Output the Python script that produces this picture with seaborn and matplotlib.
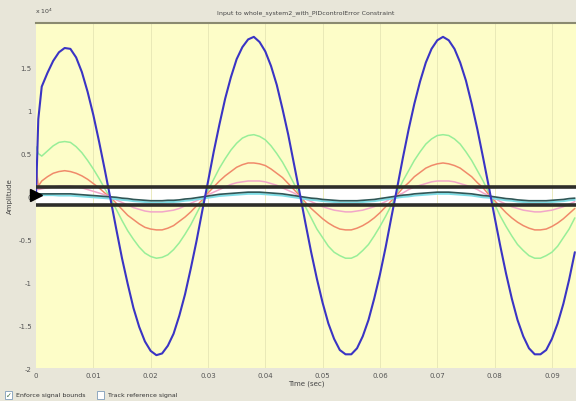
#%%
# import module/libary
import matplotlib
matplotlib.use("Agg")
import matplotlib.pyplot as plt
import matplotlib.patches as mpatches
import seaborn as sns
import pandas as pd
import numpy as np

#%%
# data (amplitude in units of 1e4, time in ms)
time_ms = [0, 0.4] + list(range(1, 95))

blue = [0.0, 0.9, 1.28, 1.44, 1.58, 1.68, 1.73, 1.72, 1.62, 1.45, 1.22, 0.95,
        0.64, 0.31, -0.03, -0.38, -0.72, -1.02, -1.30, -1.52, -1.69, -1.80,
        -1.85, -1.83, -1.74, -1.60, -1.39, -1.14, -0.84, -0.52, -0.17, 0.17,
        0.52, 0.84, 1.14, 1.39, 1.60, 1.74, 1.83, 1.86, 1.80, 1.69, 1.52, 1.30,
        1.02, 0.72, 0.38, 0.04, -0.31, -0.65, -0.96, -1.24, -1.48, -1.66, -1.79,
        -1.84, -1.84, -1.77, -1.63, -1.44, -1.19, -0.91, -0.59, -0.24, 0.10,
        0.45, 0.78, 1.08, 1.34, 1.56, 1.72, 1.82, 1.86, 1.82, 1.72, 1.56, 1.35,
        1.08, 0.78, 0.45, 0.11, -0.24, -0.58, -0.90, -1.19, -1.44, -1.63, -1.77,
        -1.84, -1.84, -1.79, -1.66, -1.48, -1.25, -0.97, -0.65]

green = [0.58, 0.50, 0.47, 0.53, 0.59, 0.63, 0.64, 0.63, 0.58, 0.51, 0.42,
         0.32, 0.21, 0.09, -0.02, -0.15, -0.28, -0.40, -0.50, -0.59, -0.66,
         -0.70, -0.72, -0.71, -0.68, -0.62, -0.54, -0.44, -0.33, -0.20, -0.07,
         0.07, 0.20, 0.33, 0.44, 0.54, 0.62, 0.68, 0.71, 0.72, 0.70, 0.66, 0.59,
         0.50, 0.40, 0.28, 0.15, 0.01, -0.12, -0.25, -0.38, -0.48, -0.58, -0.65,
         -0.69, -0.72, -0.72, -0.69, -0.63, -0.56, -0.46, -0.35, -0.23, -0.10,
         0.04, 0.18, 0.30, 0.42, 0.52, 0.61, 0.67, 0.71, 0.72, 0.71, 0.67, 0.61,
         0.52, 0.42, 0.30, 0.18, 0.04, -0.09, -0.23, -0.35, -0.46, -0.56, -0.63,
         -0.69, -0.72, -0.72, -0.69, -0.65, -0.58, -0.48, -0.38, -0.25]

orange = [0.36, 0.12, 0.18, 0.23, 0.27, 0.29, 0.30, 0.29, 0.27, 0.24, 0.20,
          0.15, 0.10, 0.04, -0.01, -0.08, -0.15, -0.22, -0.27, -0.32, -0.36,
          -0.38, -0.39, -0.39, -0.37, -0.34, -0.29, -0.24, -0.18, -0.11, -0.04,
          0.04, 0.11, 0.18, 0.24, 0.29, 0.34, 0.37, 0.39, 0.39, 0.38, 0.36, 0.32,
          0.27, 0.22, 0.15, 0.08, 0.01, -0.07, -0.14, -0.20, -0.26, -0.31, -0.35,
          -0.38, -0.39, -0.39, -0.37, -0.34, -0.30, -0.25, -0.19, -0.12, -0.05,
          0.02, 0.10, 0.16, 0.23, 0.28, 0.33, 0.36, 0.38, 0.39, 0.38, 0.36, 0.33,
          0.28, 0.23, 0.16, 0.10, 0.02, -0.05, -0.12, -0.19, -0.25, -0.30, -0.34,
          -0.37, -0.39, -0.39, -0.38, -0.35, -0.31, -0.26, -0.20, -0.14]

pink = [0.14, 0.08, 0.09, 0.10, 0.11, 0.12, 0.12, 0.12, 0.11, 0.10, 0.08,
        0.06, 0.04, 0.02, 0.0, -0.04, -0.07, -0.10, -0.13, -0.15, -0.17, -0.18,
        -0.18, -0.18, -0.17, -0.16, -0.14, -0.11, -0.08, -0.05, -0.02, 0.02,
        0.05, 0.08, 0.11, 0.14, 0.16, 0.17, 0.18, 0.18, 0.18, 0.17, 0.15, 0.13,
        0.10, 0.07, 0.04, 0.0, -0.03, -0.06, -0.09, -0.12, -0.14, -0.16, -0.17,
        -0.18, -0.18, -0.17, -0.16, -0.14, -0.12, -0.09, -0.06, -0.02, 0.01,
        0.04, 0.08, 0.11, 0.13, 0.15, 0.17, 0.18, 0.18, 0.18, 0.17, 0.15, 0.13,
        0.11, 0.08, 0.04, 0.01, -0.02, -0.06, -0.09, -0.12, -0.14, -0.16, -0.17,
        -0.18, -0.18, -0.17, -0.16, -0.14, -0.12, -0.09, -0.06]

cyan = [0.02, 0.02, 0.015, 0.015, 0.015, 0.01, 0.01, 0.01, 0.005, 0.0, -0.005,
        -0.01, -0.015, -0.02, -0.025, -0.03, -0.04, -0.045, -0.055, -0.06,
        -0.065, -0.07, -0.07, -0.07, -0.065, -0.065, -0.06, -0.05, -0.045,
        -0.035, -0.025, -0.015, -0.005, 0.005, 0.01, 0.015, 0.02, 0.025, 0.03,
        0.03, 0.03, 0.025, 0.02, 0.015, 0.01, 0.0, -0.01, -0.02, -0.03, -0.04,
        -0.045, -0.055, -0.06, -0.065, -0.07, -0.07, -0.07, -0.07, -0.065,
        -0.06, -0.055, -0.045, -0.035, -0.025, -0.015, -0.005, 0.0, 0.01, 0.015,
        0.02, 0.025, 0.03, 0.03, 0.03, 0.025, 0.02, 0.015, 0.01, 0.0, -0.01,
        -0.015, -0.025, -0.035, -0.045, -0.05, -0.06, -0.065, -0.07, -0.07,
        -0.07, -0.07, -0.065, -0.06, -0.055, -0.045, -0.04]

dark = [0.035, 0.03, 0.03, 0.03, 0.03, 0.03, 0.03, 0.03, 0.025, 0.02, 0.015,
        0.01, 0.005, 0.0, -0.005, -0.01, -0.02, -0.025, -0.035, -0.04, -0.045,
        -0.05, -0.05, -0.05, -0.045, -0.045, -0.04, -0.03, -0.025, -0.015,
        -0.005, 0.005, 0.015, 0.025, 0.03, 0.035, 0.04, 0.045, 0.05, 0.05, 0.05,
        0.045, 0.04, 0.035, 0.03, 0.02, 0.01, 0.0, -0.01, -0.02, -0.025, -0.035,
        -0.04, -0.045, -0.05, -0.05, -0.05, -0.05, -0.045, -0.04, -0.035,
        -0.025, -0.015, -0.005, 0.005, 0.015, 0.02, 0.03, 0.035, 0.04, 0.045,
        0.05, 0.05, 0.05, 0.045, 0.04, 0.035, 0.03, 0.02, 0.01, 0.005, -0.005,
        -0.015, -0.025, -0.03, -0.04, -0.045, -0.05, -0.05, -0.05, -0.05,
        -0.045, -0.04, -0.035, -0.025, -0.02]

bound_hi = 0.105
bound_lo = -0.105

x_ticks = [0, 0.01, 0.02, 0.03, 0.04, 0.05, 0.06, 0.07, 0.08, 0.09]
x_labels = ["0", "0.01", "0.02", "0.03", "0.04", "0.05", "0.06", "0.07", "0.08", "0.09"]
y_ticks = [-2, -1.5, -1, -0.5, 0, 0.5, 1, 1.5]
y_labels = ["-2", "-1.5", "-1", "-0.5", "0", "0.5", "1", "1.5"]

#%%
t = np.array(time_ms) / 1000.0
data = pd.DataFrame({"t": t, "blue": blue, "green": green, "orange": orange,
                     "pink": pink, "cyan": cyan, "dark": dark})

sns.set_style("white")
plt.rcParams['font.family'] = ['DejaVu Sans']

fig = plt.figure(figsize=(5.76, 4.02), dpi=100)
fig.patch.set_facecolor("#e8e6d9")
ax = fig.add_axes([0.0625, 0.082, 0.9375, 0.858])
ax.set_facecolor("#fdfdc8")

# allowed region between the bounds
ax.axhspan(bound_lo, bound_hi, color="white", zorder=0.5)
for xv in x_ticks[1:]:
    ax.axvline(xv, color="#e6e6b4", lw=0.6, zorder=0.6)

styles = [("green", "#98ee98", 1.1), ("orange", "#f08a6a", 1.1),
          ("pink", "#f2a6c8", 1.1), ("cyan", "#7fdde6", 1.4),
          ("dark", "#2f5656", 1.2), ("blue", "#3a34c4", 1.5)]
for col, color, lw in styles:
    sns.lineplot(data=data, x="t", y=col, ax=ax, color=color, lw=lw,
                 estimator=None, sort=False, zorder=2)

ax.axhline(bound_hi, color="#2e2e2a", lw=2.6, zorder=3)
ax.axhline(bound_lo, color="#2e2e2a", lw=2.6, zorder=3)
ax.plot([0], [0.02], marker=">", color="black", markersize=9, clip_on=False, zorder=4)

ax.set_xlim(0, 0.0942)
ax.set_ylim(-2, 2.02)
ax.set_xticks(x_ticks)
ax.set_xticklabels(x_labels)
ax.set_yticks(y_ticks)
ax.set_yticklabels(y_labels)
ax.tick_params(labelsize=5, colors="#555555", length=2, direction="in", pad=3)
ax.set_xlabel("Time (sec)", fontsize=5, color="#444444", labelpad=1)
ax.set_ylabel("Amplitude", fontsize=5, color="#444444", labelpad=4)
for side in ["right", "bottom", "left"]:
    ax.spines[side].set_visible(False)
ax.spines["top"].set_color("#8a8a70")
ax.spines["top"].set_linewidth(1.5)

fig.text(0.53, 0.968, "Input to whole_system2_with_PIDcontrolError Constraint",
         fontsize=4.5, color="#444444", ha="center", va="center")
fig.text(0.06, 0.972, r"x 10$^4$", fontsize=4.5, color="#444444", ha="left", va="center")

# check boxes under the plot
fig.patches.append(mpatches.Rectangle((0.008, 0.006), 0.012, 0.018, transform=fig.transFigure,
                                      facecolor="white", edgecolor="#7f9db9", lw=0.6))
fig.text(0.011, 0.015, "\u2713", fontsize=5, color="#3a6a3a", ha="left", va="center")
fig.text(0.028, 0.015, "Enforce signal bounds", fontsize=4.5, color="#333333", va="center")
fig.patches.append(mpatches.Rectangle((0.168, 0.006), 0.012, 0.018, transform=fig.transFigure,
                                      facecolor="white", edgecolor="#7f9db9", lw=0.6))
fig.text(0.188, 0.015, "Track reference signal", fontsize=4.5, color="#333333", va="center")

plt.savefig("out.png", dpi=100, facecolor=fig.get_facecolor())
